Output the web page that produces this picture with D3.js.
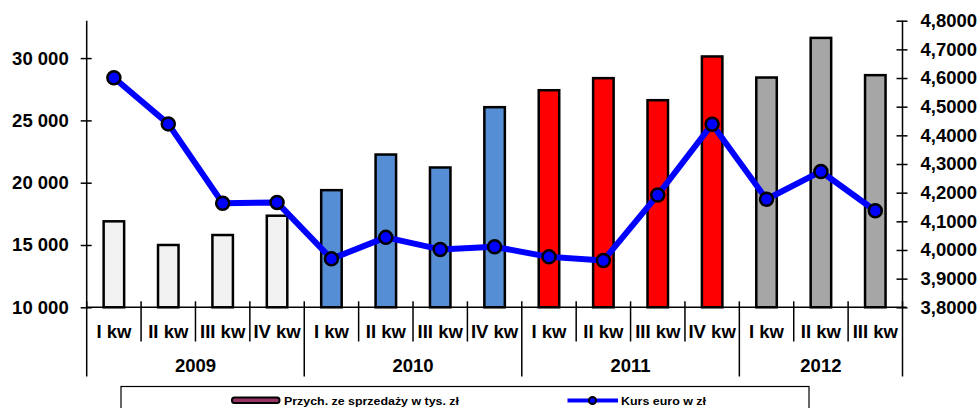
<!DOCTYPE html>
<html>
<head>
<meta charset="utf-8">
<script src="https://cdn.jsdelivr.net/npm/d3@7"></script>
<style>
  body { margin: 0; background: #fff; }
  svg { display: block; font-family: "Liberation Sans", Arial, sans-serif; font-weight: bold; }
</style>
</head>
<body>
<div id="chart"></div>
<script>
// data
const years = ['2009', '2010', '2011', '2012'];
const quarters = ['I kw', 'II kw', 'III kw', 'IV kw', 'I kw', 'II kw', 'III kw', 'IV kw',
                  'I kw', 'II kw', 'III kw', 'IV kw', 'I kw', 'II kw', 'III kw'];
const quarterYear = [0, 0, 0, 0, 1, 1, 1, 1, 2, 2, 2, 2, 3, 3, 3];
const sales = [16900, 15000, 15800, 17350, 19400, 22260, 21220, 26060,
               27420, 28390, 26620, 30130, 28440, 31620, 28630];
const euro = [4.601, 4.440, 4.163, 4.166, 3.969, 4.044, 4.002, 4.011,
              3.976, 3.963, 4.192, 4.439, 4.177, 4.274, 4.137];
const yearColors = ['#f2f2f2', '#558ed5', '#ff0000', '#a6a6a6'];
const leftTicks = [10000, 15000, 20000, 25000, 30000];
const rightTicks = [3.8, 3.9, 4.0, 4.1, 4.2, 4.3, 4.4, 4.5, 4.6, 4.7, 4.8];

const width = 979, height = 408;
const plot = { left: 86.7, right: 902.5, top: 20.7, bottom: 307.3 };

const svg = d3.select('#chart').append('svg')
    .attr('width', width)
    .attr('height', height);

const x = d3.scaleBand()
    .domain(d3.range(quarters.length))
    .range([plot.left, plot.right])
    .paddingInner(0).paddingOuter(0);

const yLeft = d3.scaleLinear().domain([10000, 33000]).range([plot.bottom, plot.top]);
const yRight = d3.scaleLinear().domain([3.8, 4.8]).range([plot.bottom, plot.top]);

const fmtLeft = d => d3.format(',')(d).replace(/,/g, ' ');
const fmtRight = d => d.toFixed(4).replace('.', ',');

// left axis
const leftAxis = svg.append('g')
    .attr('transform', `translate(${plot.left},0)`)
    .call(d3.axisLeft(yLeft).tickValues(leftTicks).tickFormat(fmtLeft).tickSizeOuter(0).tickSizeInner(6).tickPadding(12));
leftAxis.select('.domain').attr('d', `M0,${plot.top}V${plot.bottom}`);
leftAxis.selectAll('.tick line').attr('x1', 5).attr('x2', -6);

// right axis
const rightAxis = svg.append('g')
    .attr('transform', `translate(${plot.right},0)`)
    .call(d3.axisRight(yRight).tickValues(rightTicks).tickFormat(fmtRight).tickSizeOuter(0).tickSizeInner(6).tickPadding(12));
rightAxis.select('.domain').attr('d', `M0,${plot.top}V${plot.bottom}`);
rightAxis.selectAll('.tick line').attr('x1', -6).attr('x2', 5);

svg.selectAll('.tick text')
    .attr('font-size', 18.5)
    .attr('font-weight', 'bold')
    .attr('font-family', '"Liberation Sans", Arial, sans-serif')
    .attr('fill', '#000');
svg.selectAll('.domain, .tick line').attr('stroke', '#000').attr('stroke-width', 1.5);

// bars
const barW = 20.5;
svg.append('g').selectAll('rect')
    .data(sales)
    .join('rect')
    .attr('x', (d, i) => x(i) + x.bandwidth() / 2 - barW / 2)
    .attr('y', d => yLeft(d))
    .attr('width', barW)
    .attr('height', d => yLeft(10000) - yLeft(d))
    .attr('fill', (d, i) => yearColors[quarterYear[i]])
    .attr('stroke', '#000')
    .attr('stroke-width', 2.5);

// category axis
svg.append('line')
    .attr('x1', plot.left).attr('x2', plot.right + 4)
    .attr('y1', plot.bottom).attr('y2', plot.bottom)
    .attr('stroke', '#000').attr('stroke-width', 1.5);

const boundaries = d3.range(quarters.length + 1);
svg.append('g').selectAll('line')
    .data(boundaries)
    .join('line')
    .attr('x1', i => plot.left + i * x.step())
    .attr('x2', i => plot.left + i * x.step())
    .attr('y1', plot.bottom - 6)
    .attr('y2', i => (i === 0 || i === quarters.length || quarterYear[i] !== quarterYear[i - 1]) ? 376.5 : 341.5)
    .attr('stroke', '#000').attr('stroke-width', 1.5);

svg.append('g').selectAll('text')
    .data(quarters)
    .join('text')
    .attr('x', (d, i) => x(i) + x.bandwidth() / 2)
    .attr('y', 337.5)
    .attr('text-anchor', 'middle')
    .attr('font-size', 18.5)
    .text(d => d);

svg.append('g').selectAll('text')
    .data(years)
    .join('text')
    .attr('x', (d, yi) => {
        const idx = quarterYear.map((q, i) => q === yi ? i : -1).filter(i => i >= 0);
        return (x(idx[0]) + x(idx[idx.length - 1]) + x.bandwidth()) / 2;
    })
    .attr('y', 372)
    .attr('text-anchor', 'middle')
    .attr('font-size', 18.5)
    .text(d => d);

// euro line
const line = d3.line()
    .x((d, i) => x(i) + x.bandwidth() / 2)
    .y(d => yRight(d));

svg.append('path')
    .datum(euro)
    .attr('d', line)
    .attr('fill', 'none')
    .attr('stroke', '#0000ff')
    .attr('stroke-width', 6)
    .attr('stroke-linejoin', 'round');

svg.append('g').selectAll('circle')
    .data(euro)
    .join('circle')
    .attr('cx', (d, i) => x(i) + x.bandwidth() / 2)
    .attr('cy', d => yRight(d))
    .attr('r', 6.5)
    .attr('fill', '#0000ff')
    .attr('stroke', '#000')
    .attr('stroke-width', 2.5);

// legend
const legend = svg.append('g');
legend.append('rect')
    .attr('x', 121).attr('y', 386.5)
    .attr('width', 688).attr('height', 40)
    .attr('fill', '#fff')
    .attr('stroke', '#000').attr('stroke-width', 1.2);

legend.append('rect')
    .attr('x', 232).attr('y', 397.5)
    .attr('width', 47.5).attr('height', 5.5)
    .attr('rx', 2.5)
    .attr('fill', '#993366')
    .attr('stroke', '#000').attr('stroke-width', 2);
legend.append('text')
    .attr('x', 284).attr('y', 404.5)
    .attr('font-size', 11)
    .attr('textLength', 175)
    .attr('lengthAdjust', 'spacingAndGlyphs')
    .text('Przych. ze sprzedaży w tys. zł');

legend.append('line')
    .attr('x1', 567.5).attr('x2', 618)
    .attr('y1', 400.5).attr('y2', 400.5)
    .attr('stroke', '#0000ff').attr('stroke-width', 4);
legend.append('circle')
    .attr('cx', 592.5).attr('cy', 400.5).attr('r', 3.5)
    .attr('fill', '#0000ff').attr('stroke', '#000').attr('stroke-width', 2);
legend.append('text')
    .attr('x', 621).attr('y', 404.5)
    .attr('font-size', 11)
    .attr('textLength', 85)
    .attr('lengthAdjust', 'spacingAndGlyphs')
    .text('Kurs euro w zł');
</script>
</body>
</html>
